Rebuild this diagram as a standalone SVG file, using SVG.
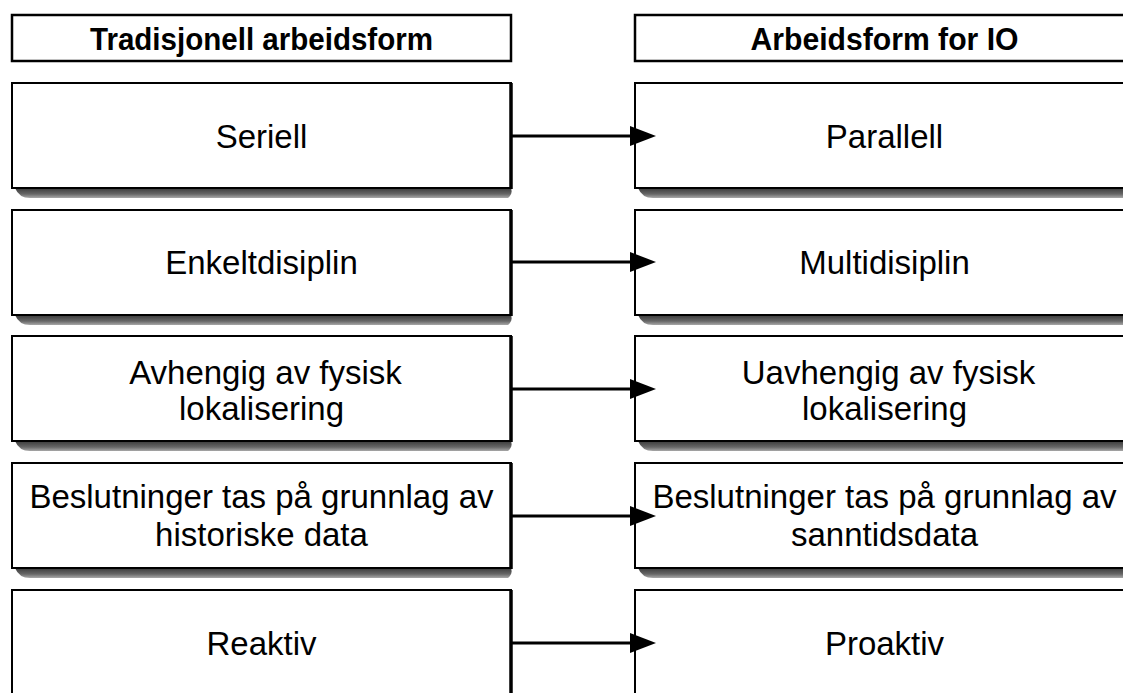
<svg xmlns="http://www.w3.org/2000/svg" width="1123" height="693" viewBox="0 0 1123 693">
  <style>
    .hdr { fill: #fff; stroke: #000; stroke-width: 2.5; }
    .box { fill: #fff; stroke: #000; stroke-width: 2; }
    .edge { stroke: #000; stroke-width: 3.5; }
    .shadow { fill: url(#shadeGrad); }
    .htxt { font-family: "Liberation Sans", Arial, sans-serif; font-weight: bold; font-size: 31px; fill: #000; text-anchor: middle; }
    .txt { font-family: "Liberation Sans", Arial, sans-serif; font-size: 33px; fill: #000; text-anchor: middle; }
    .conn { stroke: #000; stroke-width: 3; fill: none; marker-end: url(#arrowHead); }
  </style>
  <defs>
    <linearGradient id="shadeGrad" x1="0" y1="0" x2="0" y2="1">
      <stop offset="0" stop-color="#3a3a3a"/>
      <stop offset="0.6" stop-color="#666"/>
      <stop offset="1" stop-color="#a8a8a8"/>
    </linearGradient>
    <marker id="arrowHead" markerUnits="userSpaceOnUse" markerWidth="26" markerHeight="20" refX="0" refY="10" orient="auto">
      <path d="M0,0 L26,10 L0,20 z" fill="#000"/>
    </marker>
  </defs>

  <rect width="1123" height="693" fill="#fff"/>

  <!-- column headers -->
  <g id="header-left">
    <rect class="hdr" x="12" y="15" width="499" height="46"/>
    <text class="htxt" x="261.5" y="50" textLength="343" lengthAdjust="spacingAndGlyphs">Tradisjonell arbeidsform</text>
  </g>
  <g id="header-right">
    <rect class="hdr" x="635" y="15" width="499" height="46"/>
    <text class="htxt" x="884.5" y="50" textLength="268" lengthAdjust="spacingAndGlyphs">Arbeidsform for IO</text>
  </g>

  <!-- left column -->
  <g id="serial">
    <path class="shadow" d="M15,188 Q19,198 30,198 L508,198 Q513,194 511,188 Z"/>
    <rect class="box" x="12" y="83" width="499" height="105"/>
    <line class="edge" x1="511" y1="83" x2="511" y2="189"/>
    <text class="txt" x="261.5" y="148">Seriell</text>
  </g>
  <g id="single-discipline">
    <path class="shadow" d="M15,315 Q19,325 30,325 L508,325 Q513,321 511,315 Z"/>
    <rect class="box" x="12" y="210" width="499" height="105"/>
    <line class="edge" x1="511" y1="210" x2="511" y2="316"/>
    <text class="txt" x="261.5" y="274">Enkeltdisiplin</text>
  </g>
  <g id="location-dependent">
    <path class="shadow" d="M15,441 Q19,451 30,451 L508,451 Q513,447 511,441 Z"/>
    <rect class="box" x="12" y="336" width="499" height="105"/>
    <line class="edge" x1="511" y1="336" x2="511" y2="442"/>
    <text class="txt" x="265.5" y="384">Avhengig av fysisk</text>
    <text class="txt" x="261.5" y="420">lokalisering</text>
  </g>
  <g id="historical-data">
    <path class="shadow" d="M15,568 Q19,578 30,578 L508,578 Q513,574 511,568 Z"/>
    <rect class="box" x="12" y="463" width="499" height="105"/>
    <line class="edge" x1="511" y1="463" x2="511" y2="569"/>
    <text class="txt" x="261.5" y="508">Beslutninger tas på grunnlag av</text>
    <text class="txt" x="261.5" y="546">historiske data</text>
  </g>
  <g id="reactive">
    <rect class="box" x="12" y="590" width="499" height="110"/>
    <line class="edge" x1="511" y1="590" x2="511" y2="700"/>
    <text class="txt" x="261.5" y="655">Reaktiv</text>
  </g>

  <!-- right column -->
  <g id="parallel">
    <path class="shadow" d="M638,188 Q642,198 653,198 L1131,198 Q1136,194 1134,188 Z"/>
    <rect class="box" x="635" y="83" width="499" height="105"/>
    <text class="txt" x="884.5" y="148">Parallell</text>
  </g>
  <g id="multi-discipline">
    <path class="shadow" d="M638,315 Q642,325 653,325 L1131,325 Q1136,321 1134,315 Z"/>
    <rect class="box" x="635" y="210" width="499" height="105"/>
    <text class="txt" x="884.5" y="274">Multidisiplin</text>
  </g>
  <g id="location-independent">
    <path class="shadow" d="M638,441 Q642,451 653,451 L1131,451 Q1136,447 1134,441 Z"/>
    <rect class="box" x="635" y="336" width="499" height="105"/>
    <text class="txt" x="888.5" y="384">Uavhengig av fysisk</text>
    <text class="txt" x="884.5" y="420">lokalisering</text>
  </g>
  <g id="realtime-data">
    <path class="shadow" d="M638,568 Q642,578 653,578 L1131,578 Q1136,574 1134,568 Z"/>
    <rect class="box" x="635" y="463" width="499" height="105"/>
    <text class="txt" x="884.5" y="508">Beslutninger tas på grunnlag av</text>
    <text class="txt" x="884.5" y="546">sanntidsdata</text>
  </g>
  <g id="proactive">
    <rect class="box" x="635" y="590" width="499" height="110"/>
    <text class="txt" x="884.5" y="655">Proaktiv</text>
  </g>

  <!-- connectors -->
  <g id="connectors">
    <line class="conn" x1="511" y1="136" x2="630" y2="136"/>
    <line class="conn" x1="511" y1="262" x2="630" y2="262"/>
    <line class="conn" x1="511" y1="389" x2="630" y2="389"/>
    <line class="conn" x1="511" y1="516" x2="630" y2="516"/>
    <line class="conn" x1="511" y1="643" x2="630" y2="643"/>
  </g>
</svg>
